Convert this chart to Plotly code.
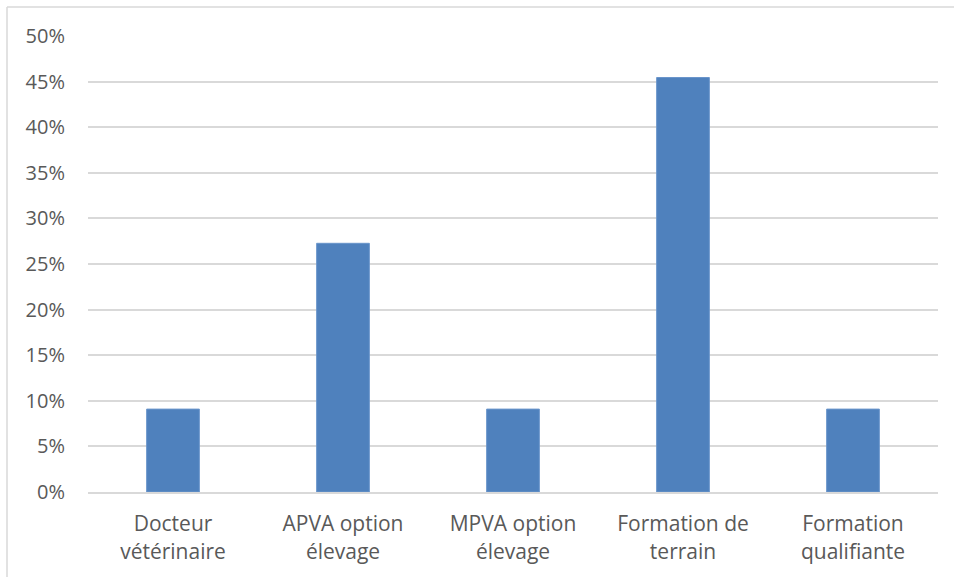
import plotly.graph_objects as go

categories = ["Docteur<br>vétérinaire", "APVA option<br>élevage", "MPVA option<br>élevage",
              "Formation de<br>terrain", "Formation<br>qualifiante"]
values = [0.0909, 0.2727, 0.0909, 0.4545, 0.0909]
tick_vals = [0, 0.05, 0.10, 0.15, 0.20, 0.25, 0.30, 0.35, 0.40, 0.45, 0.50]
tick_text = ["0%", "5%", "10%", "15%", "20%", "25%", "30%", "35%", "40%", "45%", "50%"]

fig = go.Figure(go.Bar(
    x=categories, y=values,
    marker=dict(color="#4F81BD", line=dict(color="#6A95CB", width=1)),
    width=0.31,
))

L, R, T, B = 88, 16, 36, 85
W, H = 954, 577
pw, ph = W - L - R, H - T - B

fig.update_layout(
    width=W, height=H,
    margin=dict(l=L, r=R, t=T, b=B),
    paper_bgcolor="white", plot_bgcolor="white",
    font=dict(family="Open Sans, Noto Sans, sans-serif", size=20, color="#595959"),
    showlegend=False,
    xaxis=dict(showgrid=False, showline=True, linecolor="#D9D9D9", linewidth=2,
               automargin=False,
               ticks="", ticklabelstandoff=12, tickfont=dict(size=21, color="#595959")),
    yaxis=dict(range=[0, 0.5], tickvals=tick_vals, ticktext=tick_text,
               automargin=False,
               showgrid=True, gridcolor="#D9D9D9", gridwidth=1.5, zeroline=False,
               showline=False, ticks="", ticklabelstandoff=22,
               tickfont=dict(size=20, color="#595959")),
    shapes=[
        dict(type="line", xref="paper", yref="paper",
             x0=(7 - L) / pw, x1=(W + 5 - L) / pw,
             y0=1 + (T - 7) / ph, y1=1 + (T - 7) / ph,
             line=dict(color="#D9D9D9", width=1.5)),
        dict(type="line", xref="paper", yref="paper",
             x0=(7 - L) / pw, x1=(7 - L) / pw,
             y0=1 + (T - 7) / ph, y1=-(B + 5) / ph,
             line=dict(color="#D9D9D9", width=1.5)),
    ],
)

fig.write_html("out.html", config={"displayModeBar": False},
               post_script="document.body.style.margin='0px';document.body.style.overflow='hidden';")
